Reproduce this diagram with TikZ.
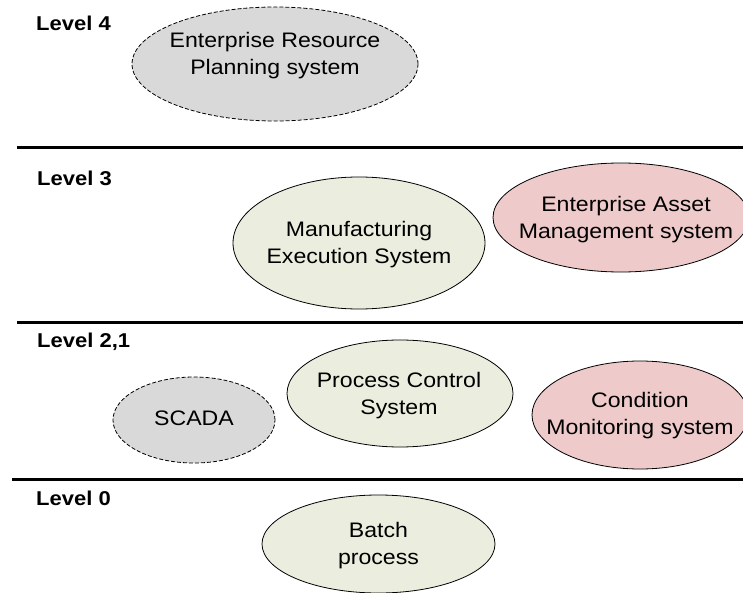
\documentclass[tikz,border=0pt]{standalone}
\usepackage{fontspec}
\setmainfont{Liberation Sans}[FakeStretch=1.1]
\usetikzlibrary{shapes.geometric}
\definecolor{grayfill}{HTML}{D9D9D9}
\definecolor{greenfill}{HTML}{EBEEDE}
\definecolor{pinkfill}{HTML}{EECACA}
\tikzset{
  ell/.style={ellipse, draw=black, line width=0.8pt, inner sep=0pt},
  dashell/.style={ell, fill=grayfill, dash pattern=on 4pt off 2pt},
  greenell/.style={ell, fill=greenfill},
  pinkell/.style={ell, fill=pinkfill},
  txt/.style={align=center, inner sep=0pt, font=\fontsize{21}{27}\selectfont},
  lvl/.style={anchor=base west, inner sep=0pt, font=\fontsize{20}{24}\selectfont\bfseries},
  sep/.style={line width=3pt}
}
\begin{document}
\begin{tikzpicture}[x=1pt,y=-1pt]
\useasboundingbox (0,0) rectangle (743,593);
% separators
\coordinate (s1a) at (17,148);   \coordinate (s1b) at (743,148);
\coordinate (s2a) at (17,322.5); \coordinate (s2b) at (743,322.5);
\coordinate (s3a) at (12,479);   \coordinate (s3b) at (743,479);
\draw[sep] (s1a) -- (s1b);
\draw[sep] (s2a) -- (s2b);
\draw[sep] (s3a) -- (s3b);
% level labels
\node[lvl] (l4) at (36,31) {Level 4};
\node[lvl] (l3) at (37,186) {Level 3};
\node[lvl] (l21) at (37,347) {Level 2,1};
\node[lvl] (l0) at (36,505) {Level 0};
% ellipses
\node[dashell, minimum width=286pt, minimum height=114pt] (erp) at (275,64) {};
\node[greenell, minimum width=252pt, minimum height=132pt] (mes) at (359,243) {};
\node[pinkell, minimum width=256pt, minimum height=109pt] (eam) at (621,217.5) {};
\node[greenell, minimum width=226pt, minimum height=107pt] (pcs) at (400,393.5) {};
\node[dashell, minimum width=162pt, minimum height=86pt] (scada) at (194,420) {};
\node[pinkell, minimum width=216pt, minimum height=108pt] (cms) at (640,415) {};
\node[greenell, minimum width=233pt, minimum height=98pt] (batch) at (378.5,544) {};
% texts
\node[txt] (erpt) at (275,55.5) {Enterprise Resource\\Planning system};
\node[txt] (mest) at (359,245) {Manufacturing\\Execution System};
\node[txt] (eamt) at (626,219.5) {Enterprise Asset\\Management system};
\node[txt] (pcst) at (399,395.3) {Process Control\\System};
\node[txt] (scadat) at (194,418.3) {SCADA};
\node[txt] (cmst) at (640,416) {Condition\\Monitoring system};
\node[txt] (batcht) at (378.5,545.3) {Batch\\process};
\end{tikzpicture}
\end{document}
